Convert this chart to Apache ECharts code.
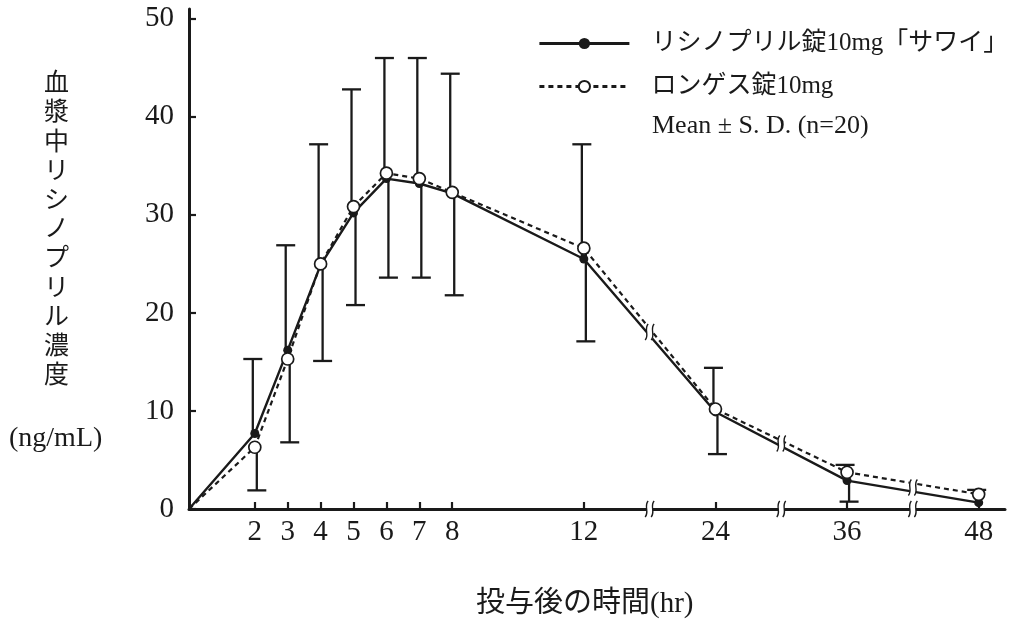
<!DOCTYPE html>
<html lang="ja">
<head>
<meta charset="UTF-8">
<title>血漿中リシノプリル濃度</title>
<style>
  html, body { margin: 0; padding: 0; background: #fff; }
  #chart { width: 1014px; height: 625px; }
</style>
<script src="https://cdn.jsdelivr.net/npm/echarts@6/dist/echarts.min.js"></script>
</head>
<body>
<div id="chart"></div>
<script>
  // 投与後の時間(hr)
  var hours = [0, 2, 3, 4, 5, 6, 7, 8, 12, 24, 36, 48];
  // リシノプリル錠10mg「サワイ」 平均値 (ng/mL)
  var sawai = [0, 7.7, 16.2, 24.9, 30.2, 33.7, 33.2, 32.2, 25.5, 9.9, 2.9, 0.65];
  // ロンゲス錠10mg 平均値 (ng/mL)
  var longes = [0, 6.3, 15.3, 25.0, 30.85, 34.25, 33.7, 32.3, 26.6, 10.2, 3.75, 1.5];
  // Mean + S.D. / Mean - S.D.
  var sdUpper = [null, 15.3, 26.9, 37.2, 42.8, 46.0, 46.0, 44.4, 37.2, 14.4, 4.5, 1.95];
  var sdLower = [null, 1.9, 6.8, 15.1, 20.8, 23.6, 23.6, 21.8, 17.1, 5.6, 0.75, null];
  // 目盛
  var tickHours = [2, 3, 4, 5, 6, 7, 8, 12, 24, 36, 48];
  var tickLabels = ['2', '3', '4', '5', '6', '7', '8', '12', '24', '36', '48'];
  var yTicks = [0, 10, 20, 30, 40, 50];
  // 軸の省略（≀≀）位置
  var breakHours = [18, 30, 42];

  var nameA = 'リシノプリル錠10mg「サワイ」';
  var nameB = 'ロンゲス錠10mg';
  var ink = '#1a1a1a';
  var serif = 'Liberation Serif, Noto Sans CJK JP';

  // 12hr以降は1/3に圧縮した目盛
  function axisX(h) {
    return h <= 12 ? h : 12 + (h - 12) / 3;
  }

  function pairs(vals) {
    return hours.map(function (h, i) { return [axisX(h), vals[i]]; });
  }

  function barData(means, bounds) {
    var out = [];
    hours.forEach(function (h, i) {
      if (bounds[i] != null) out.push([axisX(h), means[i], bounds[i]]);
    });
    return out;
  }

  // 折れ線上の省略記号：両系列の補間平均
  function lineAt(h, vals) {
    for (var i = 0; i < hours.length - 1; i++) {
      if (h >= hours[i] && h <= hours[i + 1]) {
        var t = (h - hours[i]) / (hours[i + 1] - hours[i]);
        return vals[i] + (vals[i + 1] - vals[i]) * t;
      }
    }
    return 0;
  }
  var breakData = [];
  breakHours.forEach(function (h) {
    breakData.push([axisX(h), 0]);
    breakData.push([axisX(h), (lineAt(h, sawai) + lineAt(h, longes)) / 2]);
  });

  function errorBar(offset) {
    return function (params, api) {
      var p0 = api.coord([api.value(0), api.value(1)]);
      var p1 = api.coord([api.value(0), api.value(2)]);
      var cx = p0[0] + offset;
      var st = { stroke: ink, lineWidth: 2.3 };
      return {
        type: 'group',
        children: [
          { type: 'line', shape: { x1: cx, y1: p0[1], x2: cx, y2: p1[1] }, style: st },
          { type: 'line', shape: { x1: cx - 9.5, y1: p1[1], x2: cx + 9.5, y2: p1[1] }, style: st }
        ]
      };
    };
  }

  function breakMark(params, api) {
    var p = api.coord([api.value(0), api.value(1)]);
    var x = p[0], y = p[1];
    var st = { stroke: ink, lineWidth: 1.4, fill: null };
    function curve(dx) {
      return {
        type: 'bezierCurve',
        shape: { x1: x + dx - 1.5, y1: y + 8, x2: x + dx + 1.5, y2: y - 8,
                 cpx1: x + dx + 3, cpy1: y + 3, cpx2: x + dx - 3, cpy2: y - 3 },
        style: st
      };
    }
    return {
      type: 'group',
      children: [
        { type: 'rect', shape: { x: x - 3, y: y - 7, width: 6, height: 14 }, style: { fill: '#fff' } },
        curve(-3), curve(3)
      ]
    };
  }

  var chart = echarts.init(document.getElementById('chart'));
  var option = {
    animation: false,
    backgroundColor: '#fff',
    grid: { left: 189, right: 9, top: 9, bottom: 116 },
    legend: {
      orient: 'vertical',
      left: 533,
      top: 26,
      itemWidth: 90,
      itemHeight: 14,
      itemGap: 18,
      selectedMode: false,
      lineStyle: { width: 2.8 },
      textStyle: { fontFamily: serif, fontSize: 25, color: ink, padding: [0, 0, 0, 17] },
      data: [nameA, nameB]
    },
    xAxis: {
      type: 'value',
      min: 0,
      max: 24.8,
      axisLine: { lineStyle: { color: ink, width: 3 } },
      axisTick: {
        inside: true, length: 7, lineStyle: { color: ink, width: 2.2 },
        customValues: tickHours.map(axisX)
      },
      axisLabel: {
        customValues: tickHours.map(axisX),
        margin: 9,
        color: ink,
        fontFamily: serif,
        fontSize: 29,
        formatter: function (v) {
          for (var i = 0; i < tickHours.length; i++) {
            if (Math.abs(axisX(tickHours[i]) - v) < 1e-6) return tickLabels[i];
          }
          return '';
        }
      },
      splitLine: { show: false }
    },
    yAxis: {
      type: 'value',
      min: 0,
      max: 51,
      interval: 10,
      axisLine: { show: true, lineStyle: { color: ink, width: 3 } },
      axisTick: {
        show: true, inside: true, length: 7, lineStyle: { color: ink, width: 2.2 },
        customValues: yTicks
      },
      axisLabel: {
        customValues: yTicks,
        margin: 15,
        color: ink,
        fontFamily: serif,
        fontSize: 29
      },
      splitLine: { show: false }
    },
    graphic: [
      {
        type: 'text', left: 44, top: 67,
        style: {
          text: '血漿中リシノプリル濃度'.split('').join('\n'),
          fontFamily: 'Noto Sans CJK JP', fontSize: 25, lineHeight: 29.2,
          fill: ink, textAlign: 'center'
        }
      },
      {
        type: 'text', left: 9, top: 425,
        style: { text: '(ng/mL)', fontFamily: serif, fontSize: 28, fill: ink }
      },
      {
        type: 'text', left: 476, top: 590,
        style: { text: '投与後の時間(hr)', fontFamily: serif, fontSize: 29, fill: ink }
      },
      {
        type: 'text', left: 652, top: 113,
        style: { text: 'Mean ± S. D. (n=20)', fontFamily: serif, fontSize: 26, fill: ink }
      }
    ],
    series: [
      {
        type: 'custom',
        renderItem: errorBar(-2),
        data: barData(sawai, sdUpper),
        z: 1
      },
      {
        type: 'custom',
        renderItem: errorBar(2),
        data: barData(longes, sdLower),
        z: 1
      },
      {
        name: nameA,
        type: 'line',
        data: pairs(sawai),
        symbol: function (v) { return v[0] === 0 ? 'none' : 'circle'; },
        symbolSize: 9,
        itemStyle: { color: ink },
        lineStyle: { color: ink, width: 2.4 },
        z: 2
      },
      {
        name: nameB,
        type: 'line',
        data: pairs(longes),
        symbol: function (v) { return v[0] === 0 ? 'none' : 'circle'; },
        symbolSize: 12,
        itemStyle: { color: '#fff', borderColor: ink, borderWidth: 1.7 },
        lineStyle: { color: ink, width: 2.2, type: [5, 4] },
        z: 3
      },
      {
        type: 'custom',
        renderItem: breakMark,
        data: breakData,
        clip: false,
        z: 4
      }
    ]
  };
  chart.setOption(option);
</script>
</body>
</html>
